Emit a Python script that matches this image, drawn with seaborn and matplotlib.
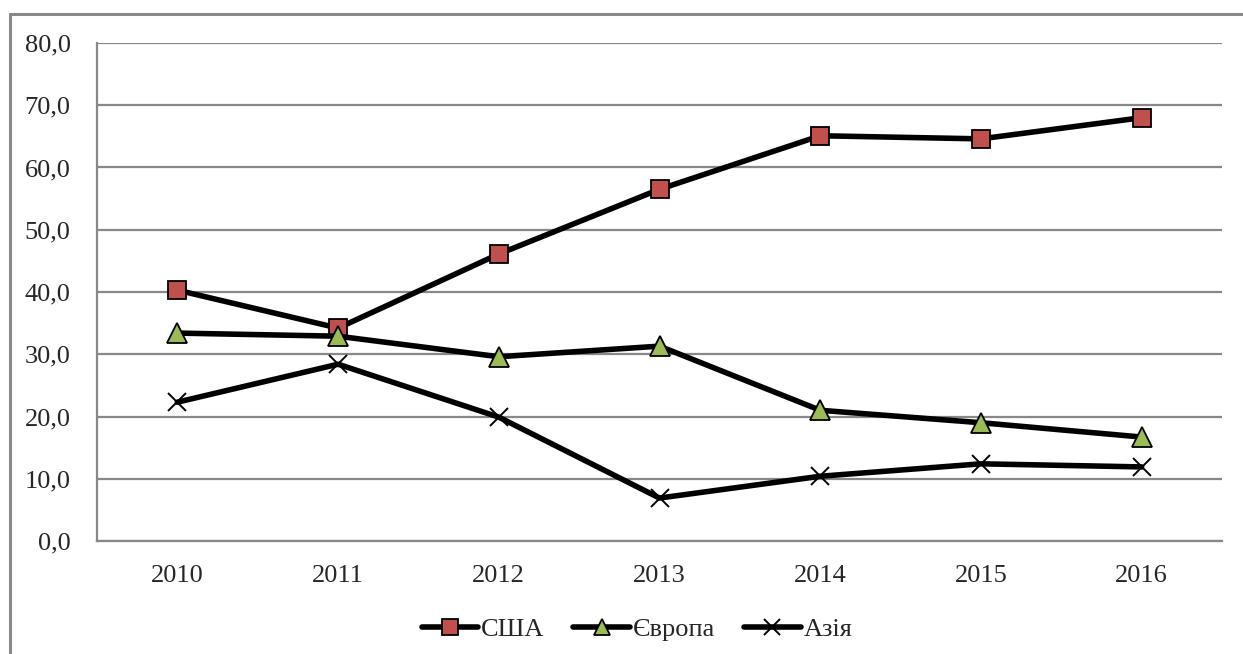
import matplotlib
matplotlib.use('Agg')
import matplotlib.pyplot as plt
import seaborn as sns
import numpy as np
from matplotlib.lines import Line2D

# Chart data
years = ['2010', '2011', '2012', '2013', '2014', '2015', '2016']
usa = [40.3, 34.2, 46.1, 56.5, 65.1, 64.6, 68.0]
europe = [33.4, 32.9, 29.6, 31.3, 21.0, 19.0, 16.7]
asia = [22.3, 28.4, 19.9, 6.9, 10.4, 12.4, 11.9]
series_names = ['США', 'Європа', 'Азія']
y_ticks = [0, 10, 20, 30, 40, 50, 60, 70, 80]

sns.set_style('white')
plt.rcParams['font.family'] = ['Liberation Serif', 'DejaVu Serif']
plt.rcParams['font.size'] = 19

fig = plt.figure(figsize=(12.43, 6.54), dpi=100)
ax = fig.add_axes([97 / 1243, 1 - 541 / 654, (1222 - 97) / 1243, (541 - 43) / 654])

grid_col = '#888888'
x = np.arange(len(years))

styles = [
    dict(marker='s', markerfacecolor='#C0504D', markersize=13),
    dict(marker='^', markerfacecolor='#9BBB59', markersize=14),
    dict(marker='x', markersize=13),
]
handles = []
for vals, name, st in zip([usa, europe, asia], series_names, styles):
    mew = 1.4 if st['marker'] == 'x' else 1.3
    sns.lineplot(x=x, y=vals, ax=ax, color='black', linewidth=4,
                 markeredgecolor='black', markeredgewidth=mew, **st)
    handles.append(Line2D([], [], color='black', linewidth=4,
                          markeredgecolor='black', markeredgewidth=mew, label=name,
                          **{**st, 'markersize': st['markersize'] - 2}))

ax.set_xlim(-0.5, len(years) - 0.5)
ax.set_ylim(0, 80)
ax.set_yticks(y_ticks)
ax.set_yticklabels([f'{v:.1f}'.replace('.', ',') for v in y_ticks])
ax.yaxis.grid(True, color=grid_col, linewidth=1.6)
ax.set_axisbelow(True)

# category boundaries as tick marks, labels in the middle
ax.set_xticks(np.arange(-0.5, len(years)), labels=[''] * (len(years) + 1))
ax.set_xticks(x, labels=years, minor=True)
ax.tick_params(axis='x', which='major', length=7, width=1.6, color=grid_col, direction='out')
ax.tick_params(axis='x', which='minor', length=0, pad=17)
ax.tick_params(axis='y', length=7, width=1.6, color=grid_col, direction='out', pad=12)
ax.set_xlabel('')
ax.set_ylabel('')

for side in ['top', 'right']:
    ax.spines[side].set_visible(False)
for side in ['left', 'bottom']:
    ax.spines[side].set_color(grid_col)
    ax.spines[side].set_linewidth(1.6)

# outer chart frame (only top and left are visible in the reference)
fig.add_artist(Line2D([10 / 1243, 1.0], [1 - 13.5 / 654] * 2, color=grid_col, linewidth=2.2))
fig.add_artist(Line2D([10 / 1243] * 2, [0, 1 - 13.5 / 654], color=grid_col, linewidth=2.2))

fig.legend(handles=handles, loc='center', bbox_to_anchor=(637 / 1243, 1 - 629 / 654),
           ncol=3, frameon=False, handlelength=2.15, handletextpad=0.1,
           columnspacing=1.1, fontsize=19)

fig.savefig('out.png', dpi=100)
